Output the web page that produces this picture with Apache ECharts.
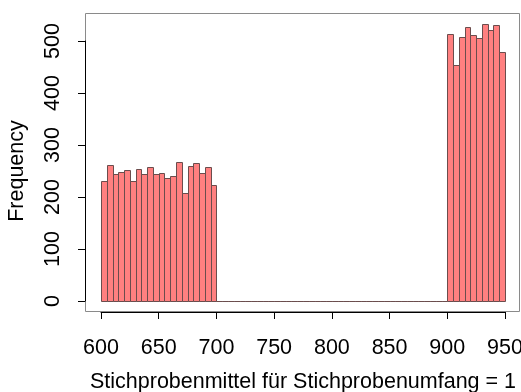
<!DOCTYPE html>
<html>
<head>
<meta charset="utf-8">
<script src="https://cdn.jsdelivr.net/npm/echarts@6/dist/echarts.min.js"></script>
<style>html,body{margin:0;padding:0;background:#fff}#c{width:521px;height:392px}</style>
</head>
<body>
<div id="c"></div>
<script>
var binStart = 600;
var binWidth = 5;
var countsLow = [230, 261, 245, 249, 251, 230, 253, 244, 257, 244, 247, 236, 240, 267, 207, 259, 265, 247, 258, 224];
var countsMid = [0,0,0,0,0,0,0,0,0,0,0,0,0,0,0,0,0,0,0,0,0,0,0,0,0,0,0,0,0,0,0,0,0,0,0,0,0,0,0,0];
var countsHigh = [513, 453, 508, 526, 512, 506, 532, 521, 531, 478];
var xTicks = [600, 650, 700, 750, 800, 850, 900, 950];
var yTicks = [0, 100, 200, 300, 400, 500];
var xTitle = 'Stichprobenmittel für Stichprobenumfang = 1';
var yTitle = 'Frequency';

var counts = countsLow.concat(countsMid, countsHigh);
var data = counts.map(function (c, i) {
  return [binStart + i * binWidth, binStart + (i + 1) * binWidth, c];
});

var chart = echarts.init(document.getElementById('c'), null, {renderer: 'canvas'});
var font = 'Liberation Sans, Arial, sans-serif';
var fs = 21.5;
chart.setOption({
  animation: false,
  backgroundColor: '#fff',
  graphic: [{
    type: 'rect', silent: true, z: -1,
    shape: {x: 85.5, y: 13.5, width: 434, height: 298},
    style: {fill: null, stroke: '#8a8a8a', lineWidth: 1}
  }],
  grid: {left: 101, right: 16, top: 41, bottom: 91, containLabel: false, outerBoundsMode: 'none'},
  xAxis: {
    type: 'value', min: xTicks[0], max: xTicks[xTicks.length - 1], interval: 50,
    offset: 11,
    axisLine: {show: true, onZero: false, lineStyle: {color: '#000', width: 1}},
    axisTick: {show: true, inside: false, length: 7, lineStyle: {color: '#000'}},
    axisLabel: {margin: 25, fontSize: fs, color: '#000', fontFamily: font},
    splitLine: {show: false},
    name: xTitle, nameLocation: 'middle', nameGap: 59,
    nameTextStyle: {fontSize: fs, color: '#000', fontFamily: font}
  },
  yAxis: {
    type: 'value', min: yTicks[0], max: yTicks[yTicks.length - 1], interval: 100,
    offset: 16,
    axisLine: {show: true, lineStyle: {color: '#000', width: 1}},
    axisTick: {show: true, inside: false, length: 7, lineStyle: {color: '#000'}},
    axisLabel: {margin: 21, fontSize: fs, color: '#000', rotate: 90, fontFamily: font},
    splitLine: {show: false},
    name: yTitle, nameLocation: 'middle', nameGap: 57,
    nameTextStyle: {fontSize: fs, color: '#000', fontFamily: font}
  },
  series: [{
    type: 'custom',
    clip: false,
    data: data,
    renderItem: function (params, api) {
      var p0 = api.coord([api.value(0), api.value(2)]);
      var p1 = api.coord([api.value(1), 0]);
      return {
        type: 'rect',
        shape: {x: Math.round(p0[0]) + 0.5, y: Math.round(p0[1]) + 0.5,
                width: Math.round(p1[0]) - Math.round(p0[0]), height: Math.round(p1[1]) - Math.round(p0[1])},
        style: {fill: '#ff8080', stroke: '#6b4d4d', lineWidth: 1}
      };
    }
  }]
});
</script>
</body>
</html>
